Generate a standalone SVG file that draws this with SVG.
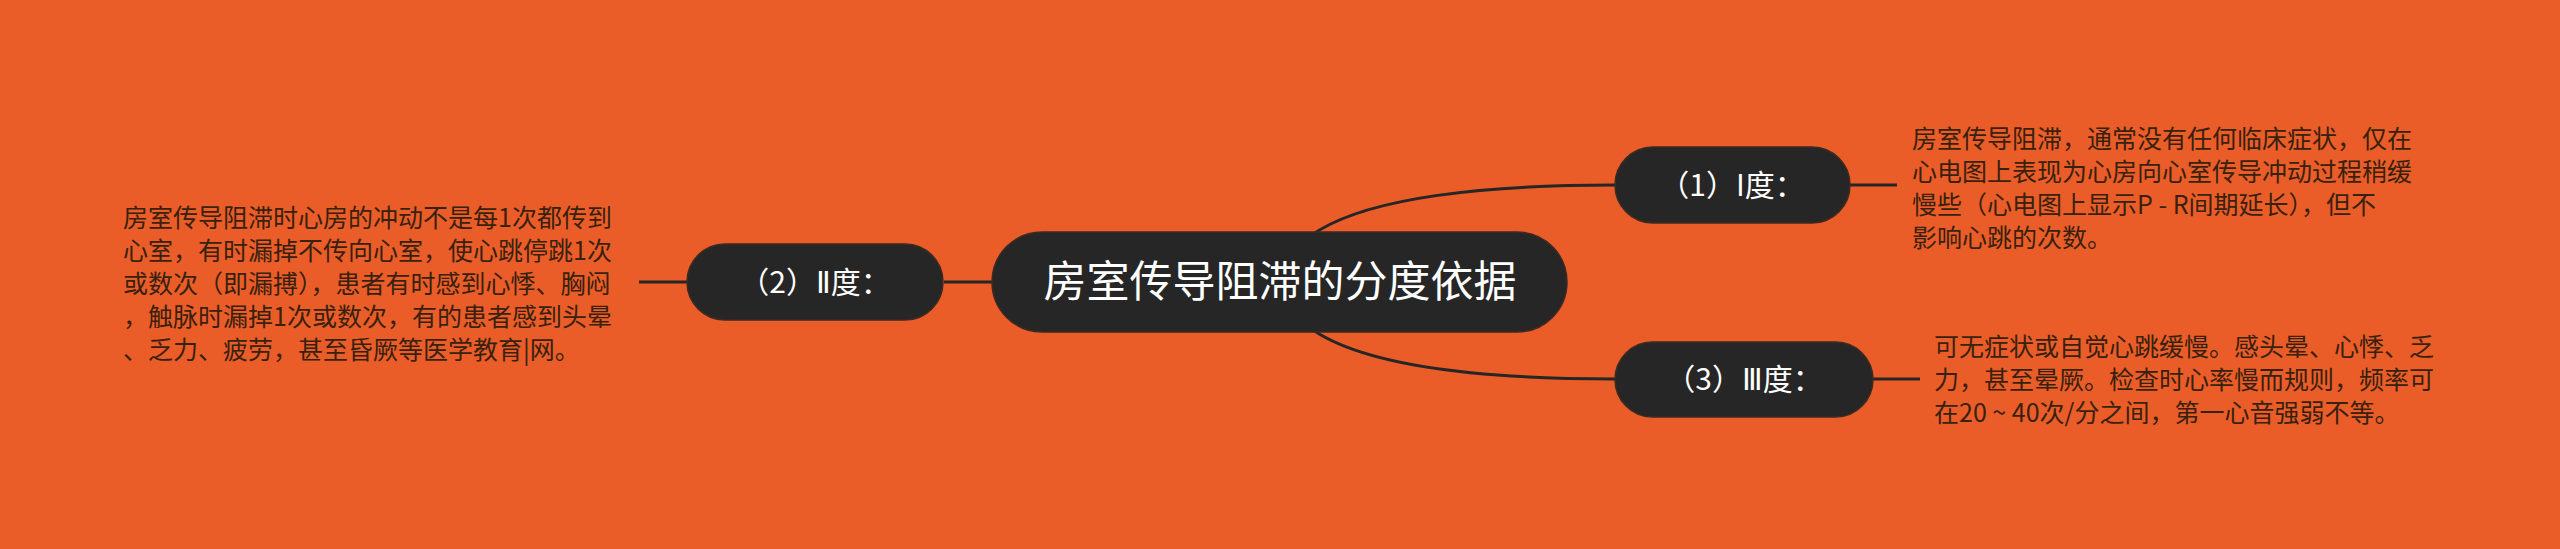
<svg xmlns="http://www.w3.org/2000/svg" width="2560" height="549" viewBox="0 0 2560 549">
<style>
.bg{fill:#EA5D28}
.node{fill:#262626;stroke:#3d2a22;stroke-width:1.5}
.lbl{fill:#ffffff;font-family:"Noto Sans CJK SC","Noto Sans",sans-serif;text-anchor:middle}
.rn{font-family:"DejaVu Sans","Noto Sans CJK SC",sans-serif}
.desc{fill:#38210f;font-family:"Noto Sans CJK SC","Noto Sans",sans-serif;font-size:25px}
.conn{fill:none;stroke:#262626;stroke-width:3}
</style>
<rect class="bg" x="0" y="0" width="2560" height="549"/>
<g id="connectors">
<path class="conn" d="M1280 282 Q1292 185 1615 185"/>
<path class="conn" d="M1280 282 Q1292 379 1615 379"/>
<path class="conn" d="M944 282 L992 282"/>
<path class="conn" d="M639 282 L687 282"/>
<path class="conn" d="M1850 185 L1897 185"/>
<path class="conn" d="M1873 379 L1920 379"/>
</g>
<g id="center">
<rect class="node" x="992" y="232" width="575" height="100" rx="50"/>
<text class="lbl" x="1280" y="297" font-size="43">房室传导阻滞的分度依据</text>
</g>
<g id="node1">
<rect class="node" x="1615" y="147" width="235" height="76" rx="38"/>
<text class="lbl" x="1732" y="196" font-size="30">（1）I度：</text>
</g>
<g id="node2">
<rect class="node" x="687" y="244" width="256" height="76" rx="38"/>
<text class="lbl" x="815" y="293" font-size="30">（2）<tspan class="rn">Ⅱ</tspan>度：</text>
</g>
<g id="node3">
<rect class="node" x="1615" y="342" width="258" height="75" rx="37.5"/>
<text class="lbl" x="1744" y="390" font-size="30">（3）<tspan class="rn">Ⅲ</tspan>度：</text>
</g>
<g id="desc1">
<text class="desc">
<tspan x="1912" y="148">房室传导阻滞，通常没有任何临床症状，仅在</tspan>
<tspan x="1912" y="181">心电图上表现为心房向心室传导冲动过程稍缓</tspan>
<tspan x="1912" y="214">慢些（心电图上显示P - R间期延长），但不</tspan>
<tspan x="1912" y="247">影响心跳的次数。</tspan>
</text>
</g>
<g id="desc2">
<text class="desc">
<tspan x="123" y="227">房室传导阻滞时心房的冲动不是每1次都传到</tspan>
<tspan x="123" y="260">心室，有时漏掉不传向心室，使心跳停跳1次</tspan>
<tspan x="123" y="293">或数次（即漏搏），患者有时感到心悸、胸闷</tspan>
<tspan x="123" y="326">，触脉时漏掉1次或数次，有的患者感到头晕</tspan>
<tspan x="123" y="359">、乏力、疲劳，甚至昏厥等医学教育|网。</tspan>
</text>
</g>
<g id="desc3">
<text class="desc">
<tspan x="1934" y="356">可无症状或自觉心跳缓慢。感头晕、心悸、乏</tspan>
<tspan x="1934" y="389">力，甚至晕厥。检查时心率慢而规则，频率可</tspan>
<tspan x="1934" y="422">在20 ~ 40次/分之间，第一心音强弱不等。</tspan>
</text>
</g>
</svg>
